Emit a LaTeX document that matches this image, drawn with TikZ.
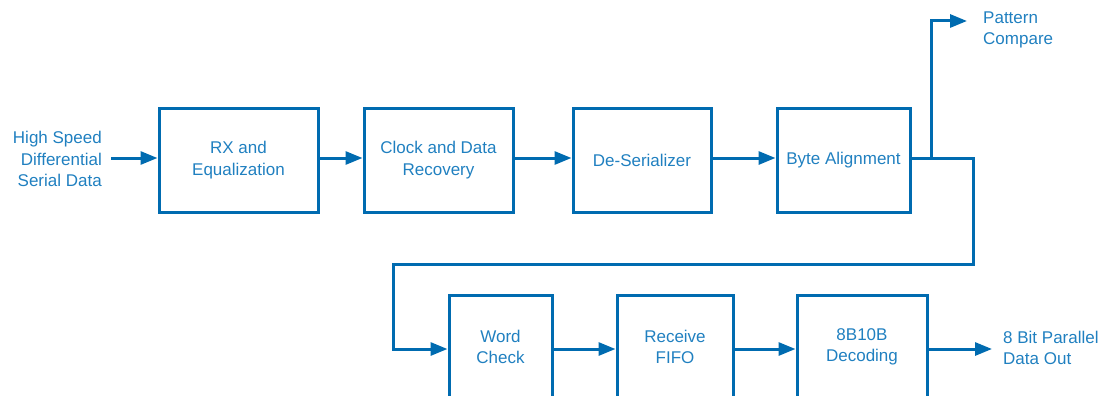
\documentclass[tikz,border=0pt]{standalone}
\usepackage{fontspec}
\setmainfont{Liberation Sans}
\usetikzlibrary{arrows.meta}
\definecolor{lineblue}{RGB}{0,107,176}
\definecolor{textblue}{RGB}{32,128,192}
\begin{document}
\begin{tikzpicture}[x=1pt,y=-1pt,
  block/.style={draw=lineblue,line width=3pt,inner sep=2pt,
    font=\fontsize{17}{21.5}\selectfont,text=textblue,align=center},
  lbl/.style={font=\fontsize{17}{21.5}\selectfont,text=textblue,inner sep=0pt},
  flow/.style={draw=lineblue,line width=3pt,
    -{Triangle[length=17pt,width=13pt]}}]
\useasboundingbox (0,0) rectangle (1098,396);
\clip (0,0) rectangle (1098,396);

% upper row of blocks
\node[block,minimum width=159pt,minimum height=104pt] (rx)    at (238.5,160) {RX and\\Equalization};
\node[block,minimum width=149pt,minimum height=104pt] (cdr)   at (438.5,160) {Clock and Data\\Recovery};
\node[block,minimum width=138pt,minimum height=104pt] (deser) at (642,160)   {De-Serializer};
\node[block,minimum width=133pt,minimum height=104pt] (byte)  at (843.5,160) {Byte Alignment};

% lower row of blocks (continues past the lower edge)
\node[block,minimum width=103pt,minimum height=104pt] (word) at (500.5,347) {Word\\Check};
\node[block,minimum width=116pt,minimum height=104pt] (fifo) at (675,347)   {Receive\\FIFO};
\node[block,minimum width=130pt,minimum height=104pt] (dec)  at (862,347)   {8B10B\\Decoding};

% external labels
\node[lbl,anchor=east,align=right] (hsin) at (102,159) {High Speed\\Differential\\Serial Data};
\node[lbl,anchor=west,align=left] (pat) at (983,30) {Pattern\\Compare};
\node[lbl,anchor=west,align=left] (pout) at (1003,348) {8 Bit Parallel\\Data Out};

% helper points for the routed connectors
\coordinate (tap) at (931,158);
\coordinate (patend) at (967,21);
\coordinate (outend) at (992,349);

% connectors
\draw[flow] (hsin.east |- 0,158) ++(9,0) -- (rx.west |- 0,158);
\draw[flow] (rx.east |- 0,158) -- (cdr.west |- 0,158);
\draw[flow] (cdr.east |- 0,158) -- (deser.west |- 0,158);
\draw[flow] (deser.east |- 0,158) -- (byte.west |- 0,158);
\draw[flow] (tap) |- (patend);
\draw[flow] (byte.east |- 0,158) -- (973,158) -- (973,264) -- (393,264) -- (393,349) -- (word.west |- 0,349);
\draw[flow] (word.east |- 0,349) -- (fifo.west |- 0,349);
\draw[flow] (fifo.east |- 0,349) -- (dec.west |- 0,349);
\draw[flow] (dec.east |- 0,349) -- (outend);
\end{tikzpicture}
\end{document}
